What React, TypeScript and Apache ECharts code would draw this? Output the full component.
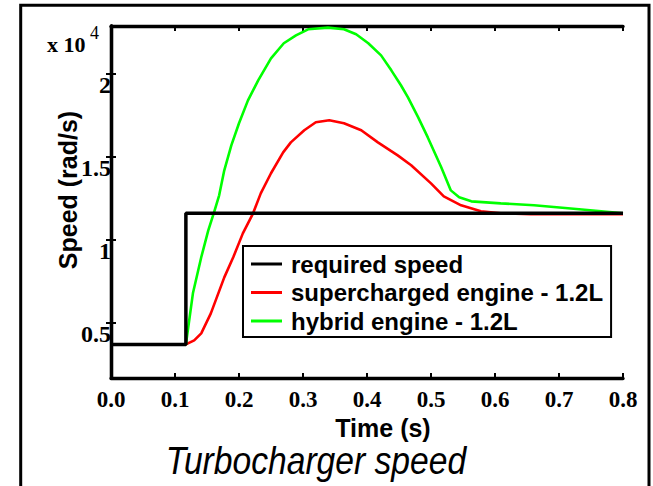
import React, { useEffect, useRef } from "react";
import * as echarts from "echarts";

// Time (s) and speed (x 10^4 rad/s)
const requiredTime = [0, 0.117, 0.117, 0.8];
const requiredSpeed = [0.367, 0.367, 1.157, 1.157];

const superTime = [0, 0.117, 0.130, 0.141, 0.156, 0.177, 0.191, 0.206, 0.222, 0.234, 0.250, 0.269, 0.281, 0.302, 0.320, 0.341, 0.364, 0.391, 0.417, 0.448, 0.469, 0.500, 0.520, 0.547, 0.578, 0.609, 0.656, 0.734, 0.800];
const superSpeed = [0.367, 0.367, 0.392, 0.434, 0.554, 0.771, 0.892, 1.036, 1.157, 1.277, 1.398, 1.524, 1.584, 1.657, 1.705, 1.717, 1.699, 1.657, 1.584, 1.506, 1.446, 1.337, 1.259, 1.205, 1.169, 1.157, 1.151, 1.151, 1.151];

const hybridTime = [0, 0.117, 0.128, 0.141, 0.152, 0.161, 0.169, 0.177, 0.188, 0.200, 0.214, 0.230, 0.250, 0.270, 0.289, 0.308, 0.339, 0.364, 0.383, 0.402, 0.422, 0.438, 0.453, 0.464, 0.480, 0.495, 0.516, 0.531, 0.544, 0.563, 0.609, 0.661, 0.714, 0.766, 0.800];
const hybridSpeed = [0.367, 0.367, 0.675, 0.892, 1.054, 1.163, 1.265, 1.416, 1.566, 1.699, 1.837, 1.958, 2.090, 2.181, 2.229, 2.265, 2.275, 2.265, 2.235, 2.181, 2.108, 2.018, 1.928, 1.855, 1.735, 1.614, 1.434, 1.295, 1.253, 1.229, 1.217, 1.205, 1.187, 1.169, 1.157];

const seriesNames = ["required speed", "supercharged engine - 1.2L", "hybrid engine - 1.2L"];
const yTicks = [0.5, 1, 1.5, 2];

const zip = (xs: number[], ys: number[]) => xs.map((x, i) => [x, ys[i]]);

export default function App() {
  const ref = useRef<HTMLDivElement>(null);
  useEffect(() => {
    if (!ref.current) return;
    const chart = echarts.init(ref.current, null, { renderer: "svg" });
    const serif = "'Liberation Serif', 'Times New Roman', serif";
    const sans = "'Liberation Sans', Arial, Helvetica, sans-serif";
    const axisLabelStyle = {
      fontFamily: serif,
      fontWeight: "bold" as const,
      fontSize: 23,
      color: "#000",
    };
    const xMin = 0, xMax = 0.8, yMin = 0.165, yMax = 2.285;
    chart.setOption({
      animation: false,
      backgroundColor: "#fff",
      grid: { left: 111, right: 30, top: 26, bottom: 108, containLabel: false },
      xAxis: [
        {
          type: "value",
          position: "bottom",
          min: xMin,
          max: xMax,
          interval: 0.1,
          axisLine: { show: true, lineStyle: { color: "#000", width: 3.3 } },
          axisTick: { show: true, inside: true, length: 5, lineStyle: { color: "#000", width: 2 } },
          axisLabel: { ...axisLabelStyle, margin: 10, formatter: (v: number) => v.toFixed(1) },
          splitLine: { show: false },
        },
        {
          type: "value",
          position: "top",
          min: xMin,
          max: xMax,
          interval: 0.1,
          axisLine: { show: true, lineStyle: { color: "#000", width: 3.3 } },
          axisTick: { show: true, inside: true, length: 5, lineStyle: { color: "#000", width: 2 } },
          axisLabel: { show: false },
          splitLine: { show: false },
        },
      ],
      yAxis: [
        {
          type: "value",
          position: "left",
          min: yMin,
          max: yMax,
          axisLine: { show: true, lineStyle: { color: "#000", width: 3.3 } },
          axisTick: { show: true, inside: true, length: 5, customValues: yTicks, lineStyle: { color: "#000", width: 2 } },
          axisLabel: { ...axisLabelStyle, fontSize: 24, margin: 0, verticalAlign: "top", customValues: yTicks, formatter: (v: number) => String(v) },
          splitLine: { show: false },
        },
        {
          type: "value",
          position: "right",
          min: yMin,
          max: yMax,
          axisLine: { show: true, lineStyle: { color: "#000", width: 3.3 } },
          axisTick: { show: true, inside: true, length: 5, customValues: yTicks, lineStyle: { color: "#000", width: 2 } },
          axisLabel: { show: false },
          splitLine: { show: false },
        },
      ],
      legend: {
        show: true,
        orient: "vertical",
        left: 243,
        top: 246,
        data: seriesNames,
        icon: "rect",
        itemWidth: 31,
        itemHeight: 3,
        itemGap: 4.5,
        padding: [6, 8, 4, 8],
        backgroundColor: "#fff",
        borderColor: "#000",
        borderWidth: 2,
        borderRadius: 0,
        selectedMode: false,
        textStyle: {
          fontFamily: sans,
          fontWeight: "bold",
          fontSize: 24,
          lineHeight: 24,
          color: "#000",
          padding: [0, 0, 0, 4],
        },
      },
      series: [
        {
          name: seriesNames[1],
          type: "line",
          data: zip(superTime, superSpeed),
          showSymbol: false,
          symbol: "none",
          lineStyle: { color: "#ff0000", width: 2.6 },
          itemStyle: { color: "#ff0000" },
          z: 2,
        },
        {
          name: seriesNames[2],
          type: "line",
          data: zip(hybridTime, hybridSpeed),
          showSymbol: false,
          symbol: "none",
          lineStyle: { color: "#00ff00", width: 2.6 },
          itemStyle: { color: "#00ff00" },
          z: 2,
        },
        {
          name: seriesNames[0],
          type: "line",
          data: zip(requiredTime, requiredSpeed),
          showSymbol: false,
          symbol: "none",
          lineStyle: { color: "#000", width: 3.5 },
          itemStyle: { color: "#000" },
          z: 3,
        },
      ],
      graphic: [
        {
          type: "rect",
          silent: true,
          z: -10,
          shape: { x: 20.7, y: 5.3, width: 628.3, height: 500 },
          style: { fill: "none", stroke: "#000", lineWidth: 3 },
        },
        {
          type: "text",
          x: 47,
          y: 44,
          style: {
            text: "x 10",
            font: `bold 22px ${serif}`,
            fill: "#000",
            textAlign: "left",
            textVerticalAlign: "middle",
          },
        },
        {
          type: "text",
          x: 90,
          y: 33,
          style: {
            text: "4",
            font: `18px ${serif}`,
            fill: "#000",
            textAlign: "left",
            textVerticalAlign: "middle",
          },
        },
        {
          type: "text",
          x: 68,
          y: 190,
          rotation: Math.PI / 2,
          style: {
            text: "Speed (rad/s)",
            font: `bold 25px ${sans}`,
            fill: "#000",
            textAlign: "center",
            textVerticalAlign: "middle",
          },
        },
        {
          type: "text",
          x: 383,
          y: 428,
          style: {
            text: "Time (s)",
            font: `bold 25px ${sans}`,
            fill: "#000",
            textAlign: "center",
            textVerticalAlign: "middle",
          },
        },
        {
          type: "text",
          x: 316,
          y: 461,
          scaleX: 0.885,
          style: {
            text: "Turbocharger speed",
            font: `italic 38px ${sans}`,
            fill: "#000",
            textAlign: "center",
            textVerticalAlign: "middle",
          },
        },
      ],
    });
    return () => chart.dispose();
  }, []);
  return (
    <div
      ref={ref}
      style={{ position: "absolute", left: 0, top: 0, width: 653, height: 486, background: "#fff" }}
    />
  );
}
